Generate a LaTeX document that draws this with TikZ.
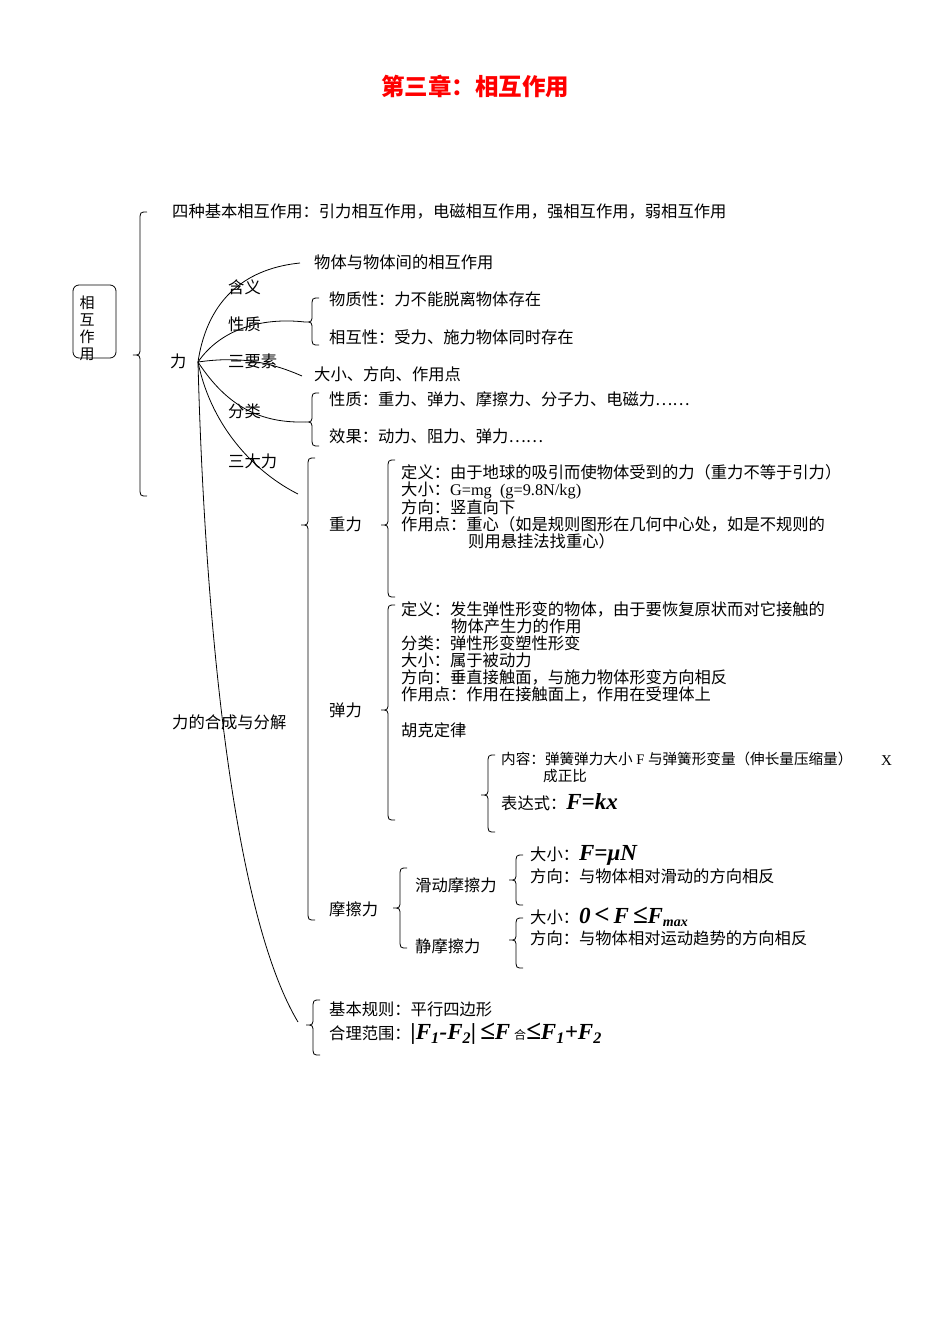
\documentclass[tikz,border=0pt]{standalone}
\usepackage{fontspec}
\setmainfont{Noto Sans CJK SC}
\newfontfamily\fml{Liberation Serif}
\newfontfamily\lser{Liberation Serif}
\newcommand\mybrace[4]{\draw[brc] (#1+7,-#2) .. controls (#1,-#2) .. (#1,-#2-9) -- (#1,-#3+8) .. controls (#1,-#3) .. (#1-7,-#3) .. controls (#1,-#3) .. (#1,-#3-8) -- (#1,-#4+9) .. controls (#1,-#4) .. (#1+7,-#4);}
\newcommand\fm[1]{{\fml\bfseries\itshape #1}}
\begin{document}
\begin{tikzpicture}[x=1pt,y=1pt,
  txt/.style={anchor=west,inner sep=0pt,font=\fontsize{16.3}{17}\selectfont},
  blk/.style={anchor=north west,inner sep=0pt,align=left,font=\fontsize{16.3}{17}\selectfont},
  brc/.style={line width=0.8pt},
  link/.style={line width=0.8pt}]
\useasboundingbox (0,0) rectangle (950,-1344);
\node[font=\fontsize{23.5}{25}\selectfont\bfseries,text=red] (title) at (475,-86) {第三章：相互作用};
% left box
\draw[rounded corners=6pt,line width=0.8pt] (73,-285) rectangle (116,-358);
\node[anchor=north,inner sep=0pt,align=center,font=\fontsize{15}{17}\selectfont] (box) at (87,-296) {相\\互\\作\\用};
\mybrace{140}{212}{355}{496}
\node[txt] (four) at (172,-212) {四种基本相互作用：引力相互作用，电磁相互作用，强相互作用，弱相互作用};
\node[txt] (li) at (170,-361) {力};
\coordinate (o) at (198,-362);
\node[txt] (hy) at (228,-287) {含义};
\node[txt] (xz) at (228,-324) {性质};
\node[txt] (sys) at (228,-361) {三要素};
\node[txt] (fl) at (228,-411) {分类};
\node[txt] (sdl) at (228,-461) {三大力};
\node[txt] (def) at (314,-262) {物体与物体间的相互作用};
\node[txt] (wzx) at (329,-299) {物质性：力不能脱离物体存在};
\node[txt] (xhx) at (329,-337) {相互性：受力、施力物体同时存在};
\node[txt] (three) at (314,-374) {大小、方向、作用点};
\node[txt] (xz2) at (329,-399) {性质：重力、弹力、摩擦力、分子力、电磁力……};
\node[txt] (xg) at (329,-436) {效果：动力、阻力、弹力……};
\coordinate (e1) at (300,-263);
\coordinate (e2) at (305,-322);
\coordinate (e3) at (302,-376);
\coordinate (e4) at (305,-422);
\coordinate (e5) at (298,-494);
\coordinate (e6) at (298,-1022);
\draw[link] (o) .. controls (208,-295) and (250,-268) .. (e1);
\draw[link] (o) .. controls (220,-330) and (260,-317) .. (e2);
\draw[link] (o) .. controls (240,-356) and (270,-362) .. (e3);
\draw[link] (o) .. controls (228,-408) and (262,-423) .. (e4);
\draw[link] (o) .. controls (212,-430) and (258,-474) .. (e5);
\draw[link] (o) .. controls (203,-560) and (225,-900) .. (e6);
\mybrace{312}{298}{322}{345}
\mybrace{312}{393}{422}{446}
\node[txt] (hc) at (172,-722) {力的合成与分解};
\mybrace{308}{458}{525}{920}
\node[txt] (zl) at (329,-524) {重力};
\node[txt] (tl) at (329,-710) {弹力};
\node[txt] (mcl) at (329,-909) {摩擦力};
\mybrace{388}{460}{525}{597}
\node[blk] (zlb) at (401,-464) {定义：由于地球的吸引而使物体受到的力（重力不等于引力）\\
大小：{\lser G=mg\ \ (g=9.8N/kg)}\\
方向：竖直向下\\
作用点：重心（如是规则图形在几何中心处，如是不规则的\\
\hspace{67pt}则用悬挂法找重心）};
\mybrace{388}{605}{710}{820}
\node[blk] (tlb) at (401,-601) {定义：发生弹性形变的物体，由于要恢复原状而对它接触的\\
\hspace{50pt}物体产生力的作用\\
分类：弹性形变塑性形变\\
大小：属于被动力\\
方向：垂直接触面，与施力物体形变方向相反\\
作用点：作用在接触面上，作用在受理体上};
\node[txt] (hk) at (401,-730) {胡克定律};
\mybrace{488}{755}{795}{832}
\node[blk,font=\fontsize{14.6}{17}\selectfont] (nr) at (501,-752) {内容：弹簧弹力大小{\lser\ F\ }与弹簧形变量（伸长量压缩量）\\
\hspace{42pt}成正比};
\node[txt,font=\lser\fontsize{15}{17}\selectfont] (xx) at (881,-761) {X};
\node[txt] (bds) at (501,-802) {表达式：\fm{\fontsize{23}{24}\selectfont F=kx}};
\mybrace{400}{868}{908}{948}
\node[txt] (hd) at (415,-885) {滑动摩擦力};
\node[txt] (jm) at (415,-946) {静摩擦力};
\mybrace{516}{855}{880}{905}
\mybrace{516}{918}{940}{968}
\node[txt] (dx1) at (530,-855) {大小：\fm{\fontsize{23}{24}\selectfont F=μN}};
\node[txt] (fx1) at (530,-876) {方向：与物体相对滑动的方向相反};
\node[txt] (dx2) at (530,-917) {大小：\fm{\fontsize{23}{24}\selectfont 0\,{\fontsize{27}{27}\selectfont <}\,F\,{\fontsize{27}{27}\selectfont ≤}F\textsubscript{\fontsize{14}{14}\selectfont max}}};
\node[txt] (fx2) at (530,-938) {方向：与物体相对运动趋势的方向相反};
\mybrace{313}{1000}{1025}{1055}
\node[txt] (jb) at (329,-1009) {基本规则：平行四边形};
\node[txt] (hl) at (329,-1034) {合理范围：\fm{\fontsize{23}{24}\selectfont |F\textsubscript{1}-F\textsubscript{2}|\,{\fontsize{27}{27}\selectfont ≤}F\,{\fontsize{12}{12}\selectfont\normalfont 合}{\fontsize{27}{27}\selectfont ≤}F\textsubscript{1}+F\textsubscript{2}}};
\end{tikzpicture}
\end{document}
